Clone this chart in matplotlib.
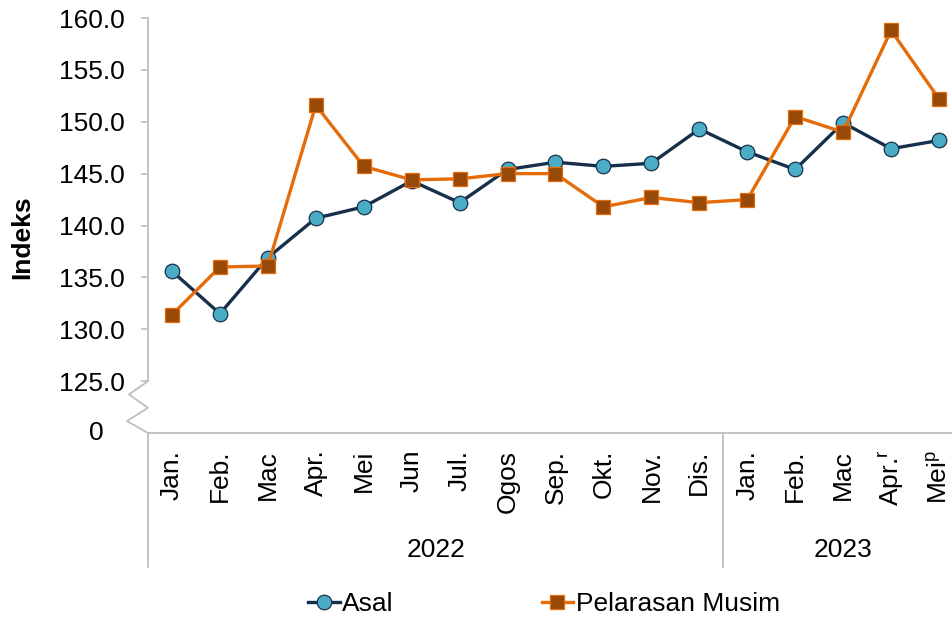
import matplotlib
matplotlib.use("Agg")
import matplotlib.pyplot as plt
import matplotlib.transforms as mtransforms

plt.rcParams['font.family'] = ['Liberation Sans', 'DejaVu Sans']

months = ["Jan.", "Feb.", "Mac", "Apr.", "Mei", "Jun", "Jul.", "Ogos", "Sep.", "Okt.", "Nov.", "Dis.",
          "Jan.", "Feb.", "Mac", "Apr.$^{\\mathregular{r}}$", "Mei$^{\\mathregular{p}}$"]
years = ["2022", "2023"]
year_counts = [12, 5]
asal = [135.6, 131.5, 136.9, 140.7, 141.8, 144.3, 142.2, 145.4, 146.1, 145.7, 146.0, 149.3,
        147.1, 145.4, 149.9, 147.4, 148.2]
pelarasan = [131.4, 136.0, 136.1, 151.6, 145.7, 144.4, 144.5, 145.0, 145.0, 141.8, 142.7, 142.2,
             142.5, 150.5, 149.0, 158.8, 152.2]
ytick_vals = [125, 130, 135, 140, 145, 150, 155, 160]
ytick_labels = ["125.0", "130.0", "135.0", "140.0", "145.0", "150.0", "155.0", "160.0"]

W, H = 953, 618
fig = plt.figure(figsize=(W / 100, H / 100), dpi=100)
ax_left, ax_right, ax_top, ax_bot = 148, 963, 18, 433
ax = fig.add_axes([ax_left / W, 1 - ax_bot / H, (ax_right - ax_left) / W, (ax_bot - ax_top) / H])

FS = 19
GRAY = "#bfbfbf"
NAVY = "#172f4b"
CYAN = "#4bacc6"
ORANGE = "#e46c0a"
BROWN = "#984807"

x = list(range(len(months)))
ax.plot(x, asal, color=NAVY, lw=2.4, marker='o', ms=10.5, mfc=CYAN, mec=NAVY, mew=0.9, zorder=3,
        label="Asal")
ax.plot(x, pelarasan, color=ORANGE, lw=2.4, marker='s', ms=10, mfc=BROWN, mec=ORANGE, mew=0.9,
        zorder=4, label="Pelarasan Musim")

ax.set_xlim(-0.5, len(months) - 0.5)
ax.set_ylim(120, 160)

for s in ["top", "right", "left"]:
    ax.spines[s].set_visible(False)
ax.spines["bottom"].set_color(GRAY)
ax.spines["bottom"].set_linewidth(1.3)

# y-axis
ax.set_yticks(ytick_vals)
ax.set_yticklabels(ytick_labels, fontsize=FS)
ax.tick_params(axis='y', length=5, color=GRAY, width=1.2, pad=12)
trans_y = mtransforms.blended_transform_factory(ax.transAxes, ax.transData)
ax.plot([0, 0], [125, 160], color=GRAY, lw=1.3, transform=trans_y, clip_on=False)
# axis break zigzag
pxw = ax_right - ax_left
zx = [0, -19, 0, -21, 0]
zy = [125, 123.72, 122.43, 121.15, 120]
ax.plot([v / pxw for v in zx], zy, color=GRAY, lw=1.3, transform=trans_y, clip_on=False)
ax.text(-44 / pxw, 120, "0", fontsize=FS, ha='right', va='center', transform=trans_y)

# x-axis
ax.set_xticks(x)
ax.set_xticklabels(months, rotation=90, fontsize=FS, va='top', ha='center')
ax.tick_params(axis='x', length=0, pad=12)

trans_x = mtransforms.blended_transform_factory(ax.transData, ax.transAxes)
sep_bottom = (ax_bot - 567) / (ax_bot - ax_top)
year_y = (ax_bot - 550) / (ax_bot - ax_top)
start = 0
bounds = [-0.5]
for yr, n in zip(years, year_counts):
    end = start + n
    bounds.append(end - 0.5)
    ax.text((start + end - 1) / 2, year_y, yr, fontsize=FS, ha='center', va='center',
            transform=trans_x)
    start = end
for b in bounds:
    ax.plot([b, b], [0, sep_bottom], color=GRAY, lw=1.3, transform=trans_x, clip_on=False)

fig.text(22.5 / W, 1 - 237 / H, "Indeks", rotation=90, fontsize=FS, fontweight='bold',
         ha='center', va='center')

leg = fig.legend(loc='center', bbox_to_anchor=(544 / W, 1 - 604 / H), ncol=2, frameon=False,
                 fontsize=FS, handlelength=1.2, handletextpad=0.1, columnspacing=5.6,
                 borderaxespad=0)

fig.savefig("out.png", dpi=100)
